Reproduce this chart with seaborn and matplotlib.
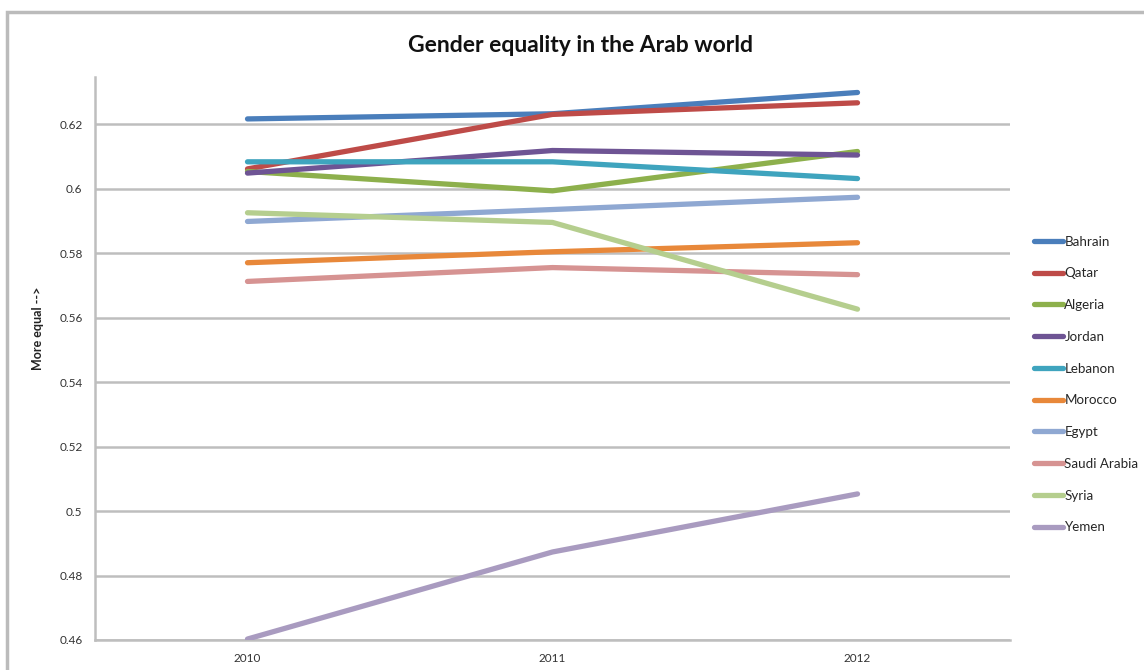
import matplotlib
matplotlib.use("Agg")
import matplotlib.pyplot as plt
import seaborn as sns
import pandas as pd
from matplotlib.patches import Rectangle

years = ["2010", "2011", "2012"]
countries = ["Bahrain", "Qatar", "Algeria", "Jordan", "Lebanon",
             "Morocco", "Egypt", "Saudi Arabia", "Syria", "Yemen"]
bahrain = [0.6216, 0.6232, 0.6298]
qatar = [0.6061, 0.6230, 0.6266]
algeria = [0.6053, 0.5993, 0.6115]
jordan = [0.6048, 0.6118, 0.6104]
lebanon = [0.6083, 0.6083, 0.6031]
morocco = [0.5770, 0.5804, 0.5832]
egypt = [0.5898, 0.5935, 0.5973]
saudi_arabia = [0.5712, 0.5755, 0.5733]
syria = [0.5925, 0.5895, 0.5626]
yemen = [0.4603, 0.4873, 0.5053]
colors = ["#4A7EBB", "#BE4B48", "#8DB04C", "#6E5494", "#3FA4BE",
          "#E8883A", "#8FA8D2", "#D69392", "#B5CE8E", "#A99BC0"]

series = [bahrain, qatar, algeria, jordan, lebanon,
          morocco, egypt, saudi_arabia, syria, yemen]
rows = []
for name, vals in zip(countries, series):
    for i, (yr, v) in enumerate(zip(years, vals)):
        rows.append({"Country": name, "pos": i, "Year": yr, "Value": v})
df = pd.DataFrame(rows)

sns.set_theme(style="white")
plt.rcParams["font.family"] = ["Lato", "DejaVu Sans"]

fig = plt.figure(figsize=(11.44, 6.70), dpi=100)
ax = fig.add_axes([95 / 1144, 30 / 670, 915 / 1144, 563 / 670])

grid_c = "#BEBEBE"
sns.lineplot(data=df, x="pos", y="Value", hue="Country", hue_order=countries,
             palette=dict(zip(countries, colors)), sort=False, ax=ax,
             linewidth=3.8, solid_capstyle="round", legend=True, zorder=3)

ax.set_xlim(-0.5, 2.5)
ax.set_ylim(0.46, 0.6346)
ax.set_yticks([0.46, 0.48, 0.50, 0.52, 0.54, 0.56, 0.58, 0.60, 0.62])
ax.set_yticklabels(["0.46", "0.48", "0.5", "0.52", "0.54", "0.56",
                    "0.58", "0.6", "0.62"])
ax.set_xticks([0, 1, 2])
ax.set_xticklabels(years)
ax.set_xticks([-0.5, 0.5, 1.5, 2.5], minor=True)
ax.tick_params(axis="x", which="major", length=0, pad=9,
               labelsize=8.5, labelcolor="#333333")
ax.tick_params(axis="x", which="minor", length=4, width=1.5,
               color=grid_c, direction="out")
ax.tick_params(axis="y", length=4, width=1.5, color=grid_c,
               direction="out", pad=5, labelsize=8.5, labelcolor="#333333")
ax.yaxis.grid(True, color=grid_c, linewidth=1.8, zorder=0)
ax.set_axisbelow(True)
for side in ["top", "right"]:
    ax.spines[side].set_visible(False)
for side in ["left", "bottom"]:
    ax.spines[side].set_color(grid_c)
    ax.spines[side].set_linewidth(1.8)
ax.set_xlabel("")
ax.set_ylabel("")

handles, labels = ax.get_legend_handles_labels()
leg = ax.legend(handles, labels, loc="upper left",
                bbox_to_anchor=(1027 / 1144, 1 - 229 / 670),
                bbox_transform=fig.transFigure, frameon=False,
                fontsize=9.6, handlelength=2.2, handletextpad=0.1,
                labelspacing=1.48, borderpad=0)
for line in leg.get_lines():
    line.set_linewidth(3.8)
    line.set_solid_capstyle("round")

fig.text(580 / 1144, 1 - 45 / 670, "Gender equality in the Arab world",
         ha="center", va="center", fontsize=16.5, fontweight="bold",
         color="#111111")
fig.text(38 / 1144, 1 - 328 / 670, "More equal -->", rotation=90,
         ha="center", va="center", fontsize=9, fontweight="bold",
         color="#222222")

# chart frame
fig.patches.append(Rectangle((7 / 1144, -0.1), 1.2, 0.1 + 1 - 12 / 670,
                             transform=fig.transFigure, fill=False,
                             edgecolor="#BBBBBB", linewidth=2.5))

fig.savefig("out.png", dpi=100)
